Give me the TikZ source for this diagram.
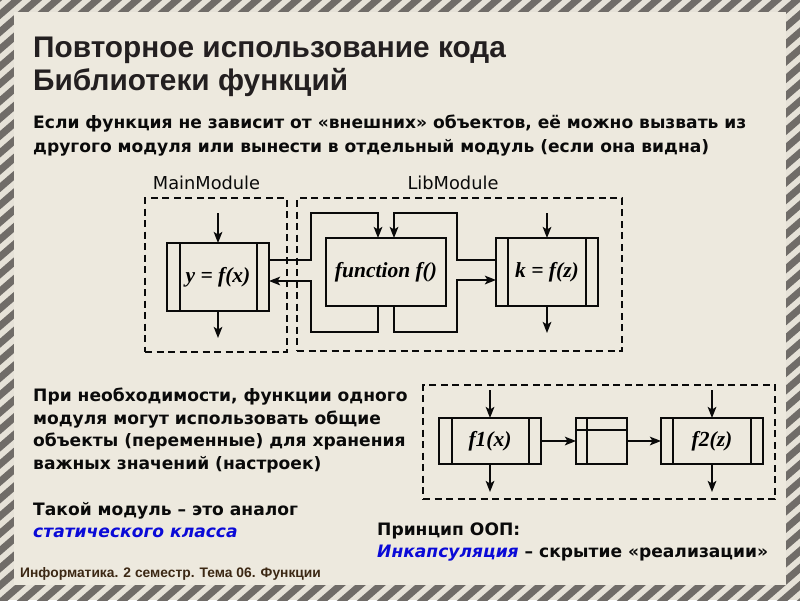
\documentclass[tikz,border=0pt]{standalone}
\usepackage{fontspec}
\setmainfont{DejaVu Sans}
\newfontfamily\arialf{Liberation Sans}
\newfontfamily\timesf{Liberation Serif}
\usetikzlibrary{arrows.meta}
\definecolor{panel}{RGB}{237,233,222}
\definecolor{stripec}{RGB}{112,108,104}
\definecolor{stripebg}{RGB}{230,226,216}
\definecolor{ink}{RGB}{10,10,10}
\definecolor{titlec}{RGB}{35,31,32}
\definecolor{footc}{RGB}{60,40,20}
\definecolor{blu}{RGB}{10,10,215}
\tikzset{
  ln/.style={line width=2.8pt, draw=ink},
  conn/.style={ln, -{Stealth[length=11pt,width=8.5pt,inset=2.5pt]}},
  pbox/.style={draw=ink, line width=2.8pt, inner sep=0pt, outer sep=0pt,
    minimum width=102pt, font=\timesf\bfseries\itshape\fontsize{21.5}{23}\selectfont},
  dbox/.style={draw=ink, line width=2.2pt, dash pattern=on 7pt off 4.5pt, inner sep=0pt, outer sep=0pt},
  body/.style={anchor=base west, inner sep=0pt, text=ink, font=\bfseries\fontsize{17.1}{19}\selectfont},
  modlabel/.style={anchor=base, inner sep=0pt, text=ink, font=\fontsize{17.8}{19}\selectfont},
}
\begin{document}
\begin{tikzpicture}[x=1pt,y=-1pt]
\useasboundingbox (0,0) rectangle (800,600);
% striped frame and panel
\begin{scope}
  \clip (0,0) rectangle (800,600);
  \fill[stripebg] (0,0) rectangle (800,600);
  \foreach \i in {-40,...,60} {
    \draw[stripec, line width=7pt] (\i*20,620) -- (\i*20+740,-20);
  }
\end{scope}
\fill[panel] (14,12) rectangle (786,585);

% title
\node[anchor=base west, inner sep=0pt, text=titlec, font=\arialf\bfseries\fontsize{29.8}{31}\selectfont] (t1) at (33,57) {Повторное использование кода};
\node[anchor=base west, inner sep=0pt, text=titlec, font=\arialf\bfseries\fontsize{29.8}{31}\selectfont] (t2) at (33,90) {Библиотеки функций};

\node[body] (b1) at (33,128) {Если функция не зависит от «внешних» объектов, её можно вызвать из};
\node[body] (b2) at (33,152) {другого модуля или вынести в отдельный модуль (если она видна)};

% module frames
\node[dbox, minimum width=142pt, minimum height=154pt] (mm) at (216,275) {};
\node[dbox, minimum width=325pt, minimum height=153pt] (lm) at (459.5,274.5) {};
\node[modlabel] (mml) at (206.5,189) {MainModule};
\node[modlabel] (lml) at (453,189) {LibModule};

% boxes
\node[pbox, minimum height=68pt] (y) at (218,277) {y = f(x)};
\node[pbox, minimum width=120pt, minimum height=68pt] (f) at (386,272) {function f()};
\node[pbox, minimum height=68pt] (k) at (547,272) {k = f(z)};
\draw[ln] ([xshift=13pt]y.north west) -- ([xshift=13pt]y.south west);
\draw[ln] ([xshift=-12pt]y.north east) -- ([xshift=-12pt]y.south east);
\draw[ln] ([xshift=12pt]k.north west) -- ([xshift=12pt]k.south west);
\draw[ln] ([xshift=-12pt]k.north east) -- ([xshift=-12pt]k.south east);

\coordinate (yin) at (218,213);
\coordinate (yout) at (218,338);
\coordinate (kin) at (547,213);
\coordinate (kout) at (547,333);
\draw[conn] (yin) -- (y.north);
\draw[conn] (y.south) -- (yout);
\draw[conn] (kin) -- (k.north);
\draw[conn] (k.south) -- (kout);

\draw[conn] ([yshift=17pt]y.east) -| (311,213) -| ([xshift=-8pt]f.north);
\draw[conn] ([xshift=-8pt]f.south) |- (311,332) |- ([yshift=-4pt]y.east);
\draw[conn] ([yshift=12pt]k.west) -| (457,213) -| ([xshift=8pt]f.north);
\draw[conn] ([xshift=8pt]f.south) |- (457,332) |- ([yshift=-8pt]k.west);

% lower text
\node[body] (p1) at (33,401) {При необходимости, функции одного};
\node[body] (p2) at (33,424) {модуля могут использовать общие};
\node[body] (p3) at (33,446) {объекты (переменные) для хранения};
\node[body] (p4) at (33,469) {важных значений (настроек)};
\node[body] (s1) at (33,515) {Такой модуль – это аналог};
\node[body, text=blu, font=\bfseries\itshape\fontsize{17.1}{19}\selectfont] (s2) at (33,537) {статического класса};
\node[body] (o1) at (377,535) {Принцип ООП:};
\node[body] (o2) at (377,557) {\textcolor{blu}{\itshape Инкапсуляция} – скрытие «реализации»};

% lower diagram
\node[dbox, minimum width=352pt, minimum height=114pt] (sh) at (599,442) {};
\node[pbox, minimum height=46pt] (f1) at (490,441) {f1(x)};
\node[pbox, minimum width=51pt, minimum height=46pt] (mid) at (601.5,441) {};
\node[pbox, minimum height=46pt] (f2) at (712,441) {f2(z)};
\draw[ln] ([xshift=13pt]f1.north west) -- ([xshift=13pt]f1.south west);
\draw[ln] ([xshift=-12pt]f1.north east) -- ([xshift=-12pt]f1.south east);
\draw[ln] ([xshift=12pt]f2.north west) -- ([xshift=12pt]f2.south west);
\draw[ln] ([xshift=-12pt]f2.north east) -- ([xshift=-12pt]f2.south east);
\draw[ln] ([xshift=11pt]mid.north west) -- ([xshift=11pt]mid.south west);
\draw[ln] ([yshift=-12pt]mid.north west) -- ([yshift=-12pt]mid.north east);
\coordinate (f1in) at (490,390);
\coordinate (f1out) at (490,492);
\coordinate (f2in) at (712,390);
\coordinate (f2out) at (712,492);
\draw[conn] (f1in) -- (f1.north);
\draw[conn] (f1.south) -- (f1out);
\draw[conn] (f2in) -- (f2.north);
\draw[conn] (f2.south) -- (f2out);
\draw[conn] (f1.east) -- (mid.west);
\draw[conn] (mid.east) -- (f2.west);

% footer
\node[anchor=base west, inner sep=0pt, text=footc, font=\arialf\bfseries\fontsize{13.8}{15}\selectfont] (ft) at (20,577) {Информатика. 2 семестр. Тема 06. Функции};
\end{tikzpicture}
\end{document}
